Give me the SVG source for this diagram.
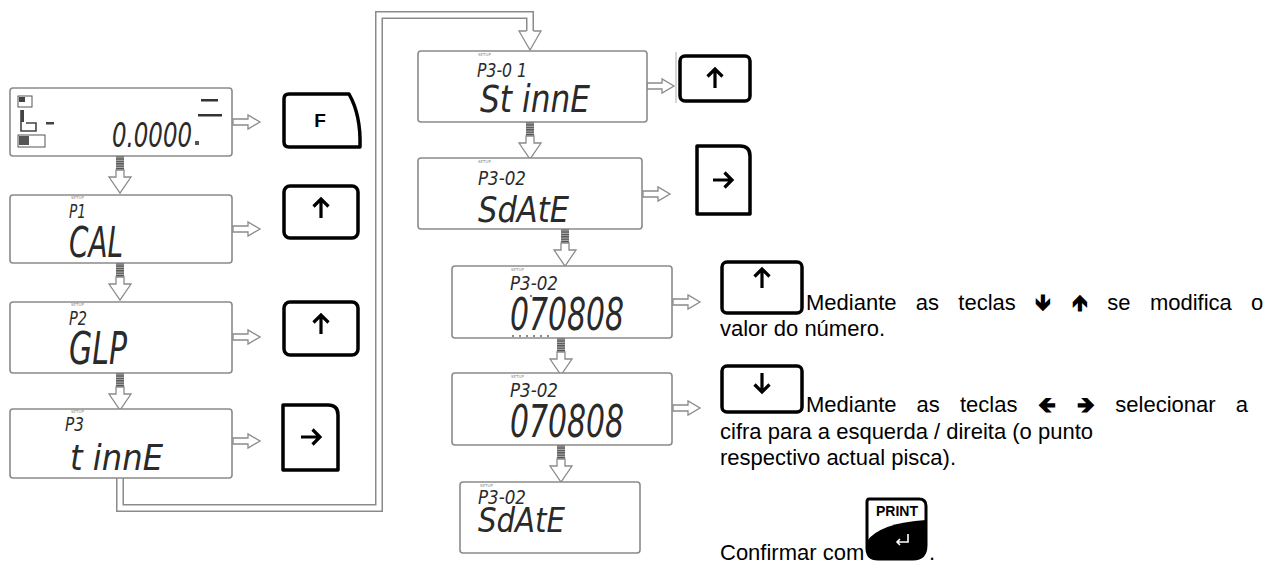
<svg xmlns="http://www.w3.org/2000/svg" width="1268" height="567" viewBox="0 0 1268 567">
<style>
.lcd{fill:#fff;stroke:#8a8a8a;stroke-width:1.6}
.seg{font-family:"DejaVu Sans",sans-serif;font-style:oblique;fill:#2a2a2a}
.tiny{font-family:"DejaVu Sans",sans-serif;font-size:4px;fill:#888}
.key{fill:#fff;stroke:#000;stroke-width:3.5;stroke-linejoin:round}
.ka{fill:none;stroke:#000;stroke-width:3.2;stroke-linecap:butt;stroke-linejoin:miter}
.kt{font-family:"Liberation Sans",Arial,sans-serif;font-weight:bold;fill:#000;text-anchor:middle}
.body{font-family:"Liberation Sans",Arial,sans-serif;font-size:22px;fill:#000}
.ra{fill:#fff;stroke:#8a8a8a;stroke-width:1.3}
</style>
<defs>
<pattern id="hatch" width="8" height="2.4" patternUnits="userSpaceOnUse">
<rect width="8" height="2.4" fill="#b0b0b0"/><rect width="8" height="1.3" fill="#505050"/>
</pattern>
<path id="rarr" class="ra" d="M0,-3 H15 V-7 L27,0 L15,7 V3 H0 Z"/>
<g id="darr">
<rect x="-4" y="0" width="8" height="14" fill="url(#hatch)"/>
<path class="ra" d="M-4,14 V21 H-11 L0,37 L11,21 H4 V14 Z"/>
</g>
<path id="aup" class="ka" d="M0,10 V-9 M-7.5,-1.5 L0,-9 L7.5,-1.5"/>
<path id="adn" class="ka" d="M0,-10 V9 M-7.5,1.5 L0,9 L7.5,1.5"/>
<path id="art" class="ka" d="M-10,0 H9 M1.5,-7.5 L9,0 L1.5,7.5"/>
</defs>

<g id="connectors">
<use href="#darr" x="120" y="156"/>
<use href="#darr" x="120" y="263"/>
<use href="#darr" x="120" y="373"/>
<use href="#darr" x="530" y="122"/>
<use href="#darr" x="565" y="229"/>
<use href="#darr" x="561" y="338"/>
<use href="#darr" x="561" y="445"/>
<use href="#rarr" x="233" y="122"/>
<use href="#rarr" x="233" y="229"/>
<use href="#rarr" x="233" y="337"/>
<use href="#rarr" x="233" y="441"/>
<use href="#rarr" x="647" y="86"/>
<use href="#rarr" x="643" y="194"/>
<use href="#rarr" x="673" y="302"/>
<use href="#rarr" x="673" y="408"/>
<path d="M120,478 V508 H379 V15 H530 V31" fill="none" stroke="#8a8a8a" stroke-width="8"/>
<path d="M120,477 V508 H379 V15 H530 V32" fill="none" stroke="#fff" stroke-width="5"/>
<path class="ra" d="M526.5,31 H519 L530,50 L541,31 H533.5"/>
<line x1="676" y1="52" x2="676" y2="103" stroke="#aaa" stroke-width="1"/>
</g>

<g id="d0">
<rect class="lcd" x="10" y="88" width="222" height="68" rx="3"/>
<rect x="18" y="96" width="14" height="11" fill="none" stroke="#555" stroke-width="1"/>
<rect x="19" y="97" width="6" height="5" fill="#444"/>
<path d="M21,110 V131 H36 V123 H26" fill="none" stroke="#444" stroke-width="1.6"/>
<rect x="21" y="110" width="3" height="12" fill="#444"/>
<rect x="46" y="122" width="8" height="2.5" fill="#444"/>
<rect x="18" y="135" width="27" height="12" fill="none" stroke="#555" stroke-width="1"/>
<rect x="19" y="136" width="10" height="9" fill="#555"/>
<text class="seg" x="112" y="147" font-size="34" textLength="80" lengthAdjust="spacingAndGlyphs">0.0000</text>
<rect x="195" y="141" width="4" height="4" fill="#555"/>
<rect x="201" y="99" width="17" height="2.5" fill="#333"/>
<rect x="198" y="114" width="24" height="2.5" fill="#333"/>
</g>

<g id="d1">
<rect class="lcd" x="10" y="195" width="222" height="68" rx="3"/>
<text class="tiny" x="71" y="199">SETUP</text>
<text class="seg" x="69" y="218" font-size="19" textLength="17" lengthAdjust="spacingAndGlyphs">P1</text>
<text class="seg" x="69" y="257" font-size="42" textLength="54" lengthAdjust="spacingAndGlyphs">CAL</text>
</g>

<g id="d2">
<rect class="lcd" x="10" y="302" width="222" height="71" rx="3"/>
<text class="tiny" x="71" y="306">SETUP</text>
<text class="seg" x="69" y="325" font-size="19" textLength="18" lengthAdjust="spacingAndGlyphs">P2</text>
<text class="seg" x="69" y="364" font-size="44" textLength="58" lengthAdjust="spacingAndGlyphs">GLP</text>
</g>

<g id="d3">
<rect class="lcd" x="10" y="409" width="222" height="69" rx="3"/>
<text class="tiny" x="71" y="413">SETUP</text>
<text class="seg" x="65" y="431" font-size="19" textLength="19" lengthAdjust="spacingAndGlyphs">P3</text>
<text class="seg" x="70" y="470" font-size="36" textLength="93" lengthAdjust="spacingAndGlyphs">t innE</text>
</g>

<g id="d4">
<rect class="lcd" x="418" y="51" width="229" height="71" rx="3"/>
<text class="tiny" x="478" y="56">SETUP</text>
<text class="seg" x="477" y="77" font-size="19" textLength="50" lengthAdjust="spacingAndGlyphs">P3-0 1</text>
<text class="seg" x="480" y="112" font-size="37" textLength="110" lengthAdjust="spacingAndGlyphs">St innE</text>
</g>

<g id="d5">
<rect class="lcd" x="418" y="158" width="224" height="71" rx="3"/>
<text class="tiny" x="478" y="163">SETUP</text>
<text class="seg" x="478" y="185" font-size="19" textLength="48" lengthAdjust="spacingAndGlyphs">P3-02</text>
<text class="seg" x="478" y="222" font-size="36" textLength="91" lengthAdjust="spacingAndGlyphs">SdAtE</text>
</g>

<g id="d6">
<rect class="lcd" x="452" y="266" width="220" height="72" rx="3"/>
<text class="tiny" x="511" y="271">SETUP</text>
<text class="seg" x="510" y="290" font-size="19" textLength="48" lengthAdjust="spacingAndGlyphs">P3-02</text>
<text class="seg" x="510" y="330" font-size="44" textLength="114" lengthAdjust="spacingAndGlyphs">070808</text>
<g fill="#555"><circle cx="513" cy="336" r="0.9"/><circle cx="520" cy="336" r="0.9"/><circle cx="527" cy="336" r="0.9"/><circle cx="534" cy="336" r="0.9"/><circle cx="541" cy="336" r="0.9"/><circle cx="548" cy="336" r="0.9"/><circle cx="531" cy="296" r="1"/></g>
</g>

<g id="d7">
<rect class="lcd" x="452" y="373" width="220" height="72" rx="3"/>
<text class="tiny" x="511" y="378">SETUP</text>
<text class="seg" x="510" y="397" font-size="19" textLength="48" lengthAdjust="spacingAndGlyphs">P3-02</text>
<text class="seg" x="510" y="437" font-size="44" textLength="114" lengthAdjust="spacingAndGlyphs">070808</text>
</g>

<g id="d8">
<rect class="lcd" x="460" y="482" width="180" height="71" rx="3"/>
<text class="tiny" x="480" y="487">SETUP</text>
<text class="seg" x="478" y="504" font-size="19" textLength="48" lengthAdjust="spacingAndGlyphs">P3-02</text>
<text class="seg" x="478" y="532" font-size="33" textLength="87" lengthAdjust="spacingAndGlyphs">SdAtE</text>
</g>

<g id="k-f">
<path class="key" d="M284,99 Q284,94 289,94 H349 Q361,115 360,147 H289 Q284,147 284,142 Z"/>
<text class="kt" x="320" y="127" font-size="19">F</text>
</g>
<g id="k-up1">
<rect class="key" x="284" y="186" width="74" height="52" rx="6"/>
<use href="#aup" x="321" y="208"/>
</g>
<g id="k-up2">
<rect class="key" x="284" y="302" width="74" height="53" rx="6"/>
<use href="#aup" x="321" y="324"/>
</g>
<g id="k-right1">
<path class="key" d="M283,405 H328 Q338,405 338,415 V470 H283 Z"/>
<use href="#art" x="311" y="437"/>
</g>
<g id="k-up3">
<rect class="key" x="680" y="56" width="70" height="45" rx="5"/>
<use href="#aup" x="715" y="78"/>
</g>
<g id="k-right2">
<path class="key" d="M697,146 H740 Q750,146 750,156 V214 H697 Z"/>
<use href="#art" x="723" y="180"/>
</g>
<g id="k-up4">
<rect class="key" x="722" y="262" width="80" height="51" rx="5"/>
<use href="#aup" x="762" y="278"/>
</g>
<g id="k-down">
<rect class="key" x="722" y="366" width="80" height="46" rx="5"/>
<use href="#adn" x="762" y="383"/>
</g>
<g id="k-print">
<path d="M869,499 H919 Q926,499 926,506 V545 Q926,559 913,559 H878 Q867,559 867,548 V502 Q867,499 869,499 Z" fill="#fff" stroke="#000" stroke-width="3"/>
<path d="M867,541 Q880,523 926,520 V545 Q926,559 913,559 H878 Q867,559 867,548 Z" fill="#000"/>
<text x="897" y="516" font-family="Liberation Sans,Arial,sans-serif" font-weight="bold" font-size="14" text-anchor="middle">PRINT</text>
<path d="M908,534 V542 H897 M900,539 L897,542 L900,545" fill="none" stroke="#fff" stroke-width="1.6"/>
</g>

<g id="notes">
<text class="body" x="806" y="310" word-spacing="13.2">Mediante as teclas <tspan font-family="DejaVu Sans" font-weight="bold">🡻 🡹</tspan> se modifica o</text>
<text class="body" x="720" y="336">valor do número.</text>
<text class="body" x="806" y="412" word-spacing="14">Mediante as teclas <tspan font-family="DejaVu Sans" font-weight="bold">🡸 🡺</tspan> selecionar a</text>
<text class="body" x="720" y="439">cifra para a esquerda / direita (o punto</text>
<text class="body" x="720" y="465">respectivo actual pisca).</text>
<text class="body" x="720" y="560">Confirmar com</text>
<text class="body" x="929" y="560">.</text>
</g>
</svg>
